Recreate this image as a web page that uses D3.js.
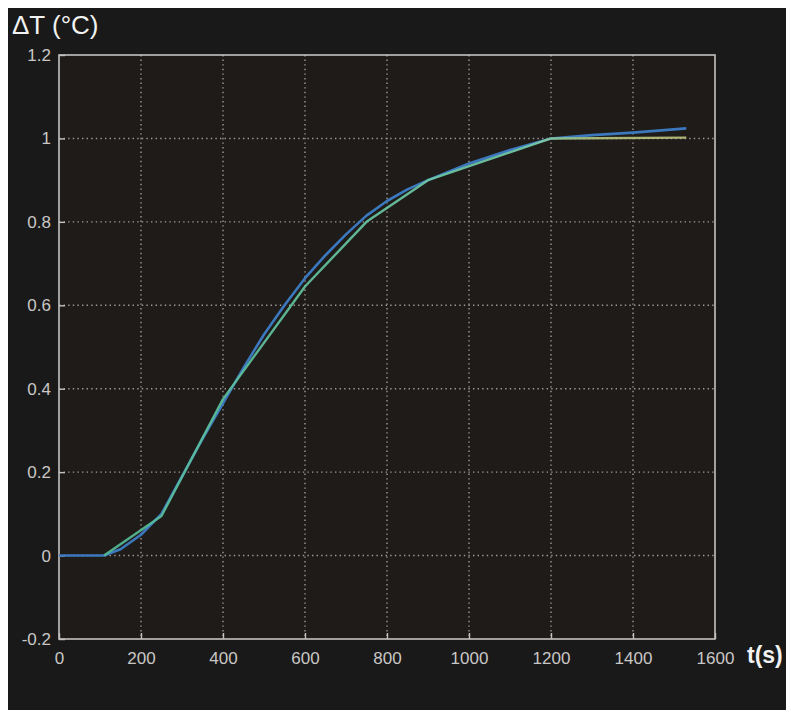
<!DOCTYPE html>
<html>
<head>
<meta charset="utf-8">
<script src="https://cdn.jsdelivr.net/npm/d3@7"></script>
<style>
  html, body { margin: 0; padding: 0; background: #ffffff; }
  svg { display: block; }
</style>
</head>
<body>
<script>
// ---- data ----
const xTicks = [0, 200, 400, 600, 800, 1000, 1200, 1400, 1600];
const yTicks = [-0.2, 0, 0.2, 0.4, 0.6, 0.8, 1, 1.2];
const yTickLabels = ["-0.2", "0", "0.2", "0.4", "0.6", "0.8", "1", "1.2"];

const modelT = [0, 110, 150, 200, 250, 300, 350, 400, 450, 500, 550, 600, 650, 700, 750, 800, 850, 900, 1000, 1100, 1200, 1300, 1400, 1530];
const modelV = [0, 0, 0.015, 0.05, 0.1, 0.19, 0.28, 0.365, 0.45, 0.53, 0.6, 0.665, 0.72, 0.77, 0.815, 0.85, 0.878, 0.9, 0.94, 0.972, 1.0, 1.008, 1.014, 1.024];

const measT = [110, 250, 400, 600, 750, 900, 1200, 1530];
const measV = [0, 0.095, 0.375, 0.645, 0.8, 0.9, 1.0, 1.002];

const xLabel = "t(s)";
const yLabel = "ΔT (°C)";

// ---- layout ----
const W = 791, H = 712;
const plot = { left: 59, right: 715, top: 55, bottom: 639 };

const svg = d3.select("body").append("svg").attr("width", W).attr("height", H);

// dark photo area inside white border
svg.append("rect").attr("x", 8).attr("y", 8).attr("width", 778).attr("height", 702).attr("fill", "#1a1919");
svg.append("rect").attr("x", plot.left).attr("y", plot.top)
  .attr("width", plot.right - plot.left).attr("height", plot.bottom - plot.top)
  .attr("fill", "#1f1b19");

const x = d3.scaleLinear().domain([0, 1600]).range([plot.left, plot.right]);
const y = d3.scaleLinear().domain([-0.2, 1.2]).range([plot.bottom, plot.top]);

const labelFont = "'Liberation Sans', Arial, sans-serif";

// grid
const grid = svg.append("g");
grid.selectAll("line.vx").data(xTicks.slice(1, -1)).enter().append("line")
  .attr("x1", d => x(d)).attr("x2", d => x(d))
  .attr("y1", plot.top).attr("y2", plot.bottom)
  .attr("stroke", "#9c9a98").attr("stroke-width", 1.4).attr("stroke-dasharray", "1.4,3.2");
grid.selectAll("line.hy").data(yTicks.slice(1, -1)).enter().append("line")
  .attr("y1", d => y(d)).attr("y2", d => y(d))
  .attr("x1", plot.left).attr("x2", plot.right)
  .attr("stroke", "#9c9a98").attr("stroke-width", 1.4).attr("stroke-dasharray", "1.4,3.2");

// axes
const xAxis = d3.axisBottom(x).tickValues(xTicks).tickSizeInner(-6).tickSizeOuter(0).tickPadding(13).tickFormat(d3.format("d"));
const yAxis = d3.axisLeft(y).tickValues(yTicks).tickSizeInner(-6).tickSizeOuter(0).tickPadding(8)
  .tickFormat((d, i) => yTickLabels[i]);

const gx = svg.append("g").attr("transform", `translate(0,${plot.bottom})`).call(xAxis);
const gy = svg.append("g").attr("transform", `translate(${plot.left},0)`).call(yAxis);
[gx, gy].forEach(g => {
  g.select(".domain").remove();
  g.selectAll(".tick line").attr("stroke", "#c4c2c0").attr("stroke-width", 1.4);
  g.selectAll(".tick text").attr("fill", "#c9c7c5").attr("font-size", 17).attr("font-family", labelFont);
});

// frame
svg.append("rect").attr("x", plot.left).attr("y", plot.top)
  .attr("width", plot.right - plot.left).attr("height", plot.bottom - plot.top)
  .attr("fill", "none").attr("stroke", "#c4c2c0").attr("stroke-width", 1.6);

// lines
const defs = svg.append("defs");
const grad = defs.append("linearGradient").attr("id", "measGrad")
  .attr("gradientUnits", "userSpaceOnUse")
  .attr("x1", x(0)).attr("x2", x(1600)).attr("y1", 0).attr("y2", 0);
grad.append("stop").attr("offset", "0%").attr("stop-color", "#4fb894");
grad.append("stop").attr("offset", "72%").attr("stop-color", "#74cba8");
grad.append("stop").attr("offset", "82%").attr("stop-color", "#b2bf7a");
grad.append("stop").attr("offset", "100%").attr("stop-color", "#b8c07c");

const line = d3.line().x(d => x(d[0])).y(d => y(d[1]));
const modelData = modelT.map((t, i) => [t, modelV[i]]);
const measData = measT.map((t, i) => [t, measV[i]]);

svg.append("path").datum(modelData).attr("d", line)
  .attr("fill", "none").attr("stroke", "#3b78bd").attr("stroke-width", 2.6).attr("stroke-linejoin", "round");
svg.append("path").datum(measData).attr("d", line)
  .attr("fill", "none").attr("stroke", "url(#measGrad)").attr("stroke-width", 2.4)
  .attr("stroke-opacity", 0.92).attr("stroke-linejoin", "round");

// axis titles
svg.append("text").attr("x", 12).attr("y", 34).text(yLabel)
  .attr("fill", "#f2f2f2").attr("font-size", 26).attr("font-family", labelFont);
svg.append("text").attr("x", 747).attr("y", 663).text(xLabel)
  .attr("fill", "#f2f2f2").attr("font-size", 23).attr("font-weight", "bold").attr("font-family", labelFont);

// white photo border
svg.append("rect").attr("x", 0).attr("y", 0).attr("width", W).attr("height", 8).attr("fill", "#fff");
svg.append("rect").attr("x", 786).attr("y", 0).attr("width", 5).attr("height", H).attr("fill", "#fff");
svg.append("rect").attr("x", 0).attr("y", 0).attr("width", 8).attr("height", H).attr("fill", "#fff");
svg.append("rect").attr("x", 0).attr("y", 710).attr("width", W).attr("height", 2).attr("fill", "#fff");
</script>
</body>
</html>
